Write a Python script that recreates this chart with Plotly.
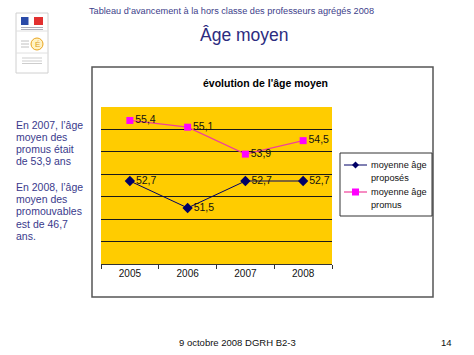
import plotly.graph_objects as go

# ---- data ----
years = ["2005", "2006", "2007", "2008"]
age_proposes = [52.7, 51.5, 52.7, 52.7]
age_promus = [55.4, 55.1, 53.9, 54.5]
series_names = [["moyenne âge", "proposés"], ["moyenne âge", "promus"]]
y_range = [49, 56]
grid_values = [50, 51, 52, 53, 54, 55]

header = "Tableau d’avancement à la hors classe des professeurs agrégés 2008"
slide_title = "Âge moyen"
chart_title = "évolution de l'âge moyen"
side_lines_1 = ["En 2007, l’âge", "moyen des", "promus était", "de 53,9 ans"]
side_lines_2 = ["En 2008, l’âge", "moyen des", "promouvables", "est de 46,7", "ans."]
footer = "9 octobre 2008 DGRH B2-3"
page_no = "14"

W, H = 474, 355
FONT = "Liberation Sans, Arial, sans-serif"
TXT = "#3a3a8c"
NAVY = "#000066"
PINK_LINE = "#f0409a"
PINK_MARK = "#ff00ff"


def fx(px):
    return px / W


def fy(py):
    return 1 - py / H


def fmt(v):
    return f"{v:.1f}".replace(".", ",")


fig = go.Figure()
fig.add_trace(go.Scatter(
    x=years, y=age_proposes, name=" ".join(series_names[0]), mode="lines+markers+text",
    line=dict(color=NAVY, width=1),
    marker=dict(symbol="diamond", size=8, color=NAVY),
    text=[fmt(v) for v in age_proposes], textposition="middle right",
    textfont=dict(size=10.5, color="#111", family=FONT),
    showlegend=False, cliponaxis=False, hoverinfo="skip",
))
fig.add_trace(go.Scatter(
    x=years, y=age_promus, name=" ".join(series_names[1]), mode="lines+markers+text",
    line=dict(color=PINK_LINE, width=1.2),
    marker=dict(symbol="square", size=7, color=PINK_MARK),
    text=[fmt(v) for v in age_promus], textposition="middle right",
    textfont=dict(size=10.5, color="#111", family=FONT),
    showlegend=False, cliponaxis=False, hoverinfo="skip",
))

shapes = []


def rect(x0, y0, x1, y1, line_color=None, lw=0, fill="rgba(0,0,0,0)"):
    shapes.append(dict(type="rect", xref="paper", yref="paper",
                       x0=fx(x0), x1=fx(x1), y0=fy(y1), y1=fy(y0),
                       line=dict(color=line_color or "rgba(0,0,0,0)", width=lw), fillcolor=fill))


def hline(x0, x1, y, color, lw):
    shapes.append(dict(type="line", xref="paper", yref="paper", x0=fx(x0), x1=fx(x1),
                       y0=fy(y), y1=fy(y), line=dict(color=color, width=lw)))


# chart frame
rect(92, 67, 433, 297, "#555", 1.5)

# logo
rect(16, 13, 48, 73, "#d0d0d0", 1, "white")
for yy in (31, 53):
    hline(16, 48, yy, "#e0e0e0", 1)
rect(21, 17, 28.5, 25, fill="#2a4aa8")
rect(34, 17, 43, 25, fill="#e23030")
for yy in (27.5, 29.5):
    hline(21, 43, yy, "#9a9aaa", 0.8)
for yy in (41, 44, 47):
    hline(21, 29, yy, "#b0b0b0", 0.8)
shapes.append(dict(type="circle", xref="paper", yref="paper", x0=fx(31), x1=fx(43), y0=fy(50), y1=fy(38),
                   line=dict(color="#eaa520", width=1), fillcolor="#fff2c4"))
for yy in (58, 61, 63.5):
    hline(22, 42, yy, "#b8b8b8", 0.7)

# legend (box, line samples, marker glyphs)
rect(340, 153, 432, 216, "#333", 1, "white")
legend_rows = [165, 192]
hline(344, 367, legend_rows[0], NAVY, 1)
hline(344, 367, legend_rows[1], PINK_LINE, 1.2)
cx, cy = 355.5, legend_rows[0]
shapes.append(dict(type="path", xref="paper", yref="paper",
                   path=f"M {fx(cx - 3.5)} {fy(cy)} L {fx(cx)} {fy(cy - 3.5)} L {fx(cx + 3.5)} {fy(cy)} L {fx(cx)} {fy(cy + 3.5)} Z",
                   line=dict(width=0), fillcolor=NAVY))
rect(352, legend_rows[1] - 3.5, 359, legend_rows[1] + 3.5, fill=PINK_MARK)

annotations = []


def add_text(txt, x, y, size, color, xanchor="center", bold=False):
    annotations.append(dict(text=f"<b>{txt}</b>" if bold else txt, x=fx(x), y=fy(y),
                            xref="paper", yref="paper", xanchor=xanchor, yanchor="middle",
                            showarrow=False, font=dict(family=FONT, size=size, color=color)))


add_text(header, 231, 11, 9.2, "#40408a")
add_text(slide_title, 244, 35, 17.5, "#2c2c80")
add_text(chart_title, 265, 83, 10.5, "#000", bold=True)
for i, t in enumerate(side_lines_1):
    add_text(t, 14, 125 + 12 * i, 10.5, TXT, xanchor="left")
for i, t in enumerate(side_lines_2):
    add_text(t, 14, 187 + 12.2 * i, 10.5, TXT, xanchor="left")
add_text(footer, 237, 342, 9.5, "#111")
add_text(page_no, 446, 342, 9.5, "#111")
add_text("É", 37, 44.5, 8, "#e0a020")
for row, name in zip(legend_rows, series_names):
    add_text(name[0], 369, row, 9.2, "#111", xanchor="left")
    add_text(name[1], 369, row + 13, 9.2, "#111", xanchor="left")

fig.update_layout(
    width=W, height=H, margin=dict(l=0, r=0, t=0, b=0),
    paper_bgcolor="white", plot_bgcolor="#ffcc00",
    font=dict(family=FONT, color="#111"),
    shapes=shapes, annotations=annotations,
    showlegend=False, hovermode=False,
    xaxis=dict(domain=[fx(101), fx(332)], type="category", range=[-0.5, len(years) - 0.5],
               tickson="boundaries",
               ticks="outside", ticklen=4, tickcolor="#333", showline=True,
               linecolor="#333", linewidth=1, showgrid=False,
               tickfont=dict(size=10, color="#111", family=FONT)),
    yaxis=dict(domain=[fy(264), fy(107)], range=y_range, tickvals=grid_values,
               showticklabels=False, showgrid=True, gridcolor="#1a1a1a", gridwidth=1,
               zeroline=False, showline=False, ticks=""),
)

fig.write_html("out.html", config={"displayModeBar": False},
               post_script="document.body.style.margin='0';")
